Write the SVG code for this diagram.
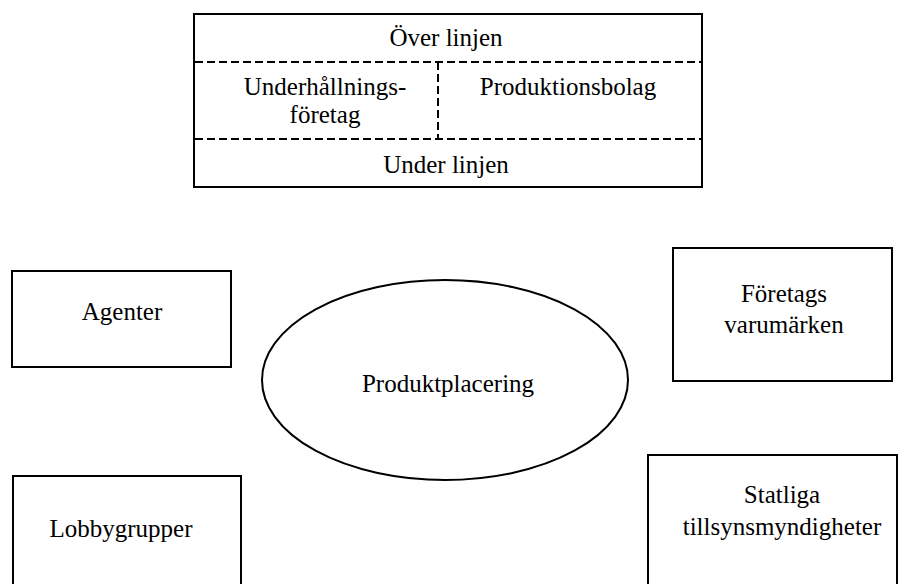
<svg xmlns="http://www.w3.org/2000/svg" width="898" height="584" viewBox="0 0 898 584">
<style>
.b{fill:#fff;stroke:#000;stroke-width:2}
.d{fill:none;stroke:#000;stroke-width:2;stroke-dasharray:8 4}
text{font-family:"Liberation Serif","Times New Roman",serif;font-size:25px;fill:#000;text-anchor:middle}
</style>
<rect width="898" height="584" fill="#fff"/>
<g id="top">
<rect class="b" x="194" y="14" width="508" height="173"/>
<line class="d" x1="195" y1="62" x2="701" y2="62"/>
<line class="d" x1="195" y1="139" x2="701" y2="139"/>
<line class="d" x1="438" y1="62" x2="438" y2="139"/>
<text x="446" y="46">Över linjen</text>
<text x="325" y="95">Underhållnings-</text>
<text x="325" y="123">företag</text>
<text x="568" y="95">Produktionsbolag</text>
<text x="446" y="173">Under linjen</text>
</g>
<g id="agenter">
<rect class="b" x="12" y="271" width="219" height="96"/>
<text x="122" y="320">Agenter</text>
</g>
<g id="lobby">
<rect class="b" x="13" y="476" width="228" height="120"/>
<text x="121" y="537">Lobbygrupper</text>
</g>
<g id="foretags">
<rect class="b" x="673" y="248" width="219" height="133"/>
<text x="784" y="302">Företags</text>
<text x="784" y="333">varumärken</text>
</g>
<g id="statliga">
<rect class="b" x="648" y="455" width="249" height="140"/>
<text x="782" y="503">Statliga</text>
<text x="782" y="535">tillsynsmyndigheter</text>
</g>
<g id="produkt">
<ellipse class="b" cx="445" cy="380" rx="183" ry="100"/>
<text x="448" y="392">Produktplacering</text>
</g>
<g id="connectors"></g>
</svg>
